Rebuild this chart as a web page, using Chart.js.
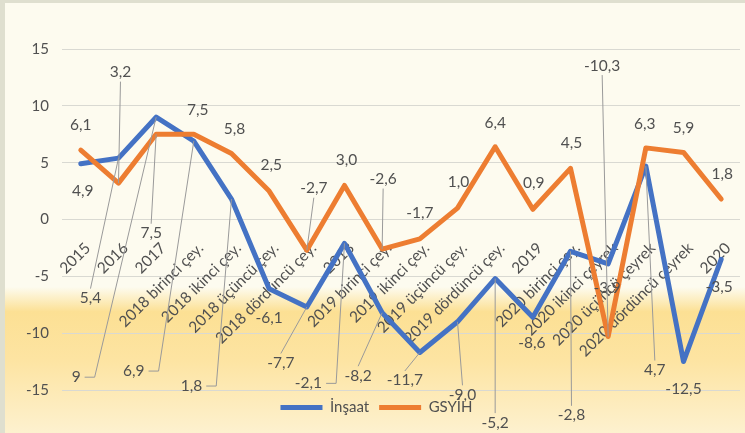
<!DOCTYPE html>
<html><head><meta charset="utf-8">
<script src="https://cdn.jsdelivr.net/npm/chart.js@4"></script>
<style>html,body{margin:0;padding:0;background:#fdfbef}#wrap{width:745px;height:433px}</style>
</head><body><div id="wrap"><canvas id="c" width="745" height="433"></canvas></div>
<script>
// ---- data ----
const categories = ['2015','2016','2017','2018 birinci çey.','2018 ikinci çey.','2018 üçüncü çey.','2018 dördüncü çey.','2018','2019 birinci çey.','2019 ikinci çey.','2019 üçüncü çey.','2019 dördüncü çey.','2019','2020 birinci çey.','2020 ikinci çeyrek','2020 üçüncü çeyrek','2020 dördüncü çeyrek','2020'];
const insaat = [4.9, 5.4, 9, 6.9, 1.8, -6.1, -7.7, -2.1, -8.2, -11.7, -9.0, -5.2, -8.6, -2.8, -3.9, 4.7, -12.5, -3.5];
const gsyih  = [6.1, 3.2, 7.5, 7.5, 5.8, 2.5, -2.7, 3.0, -2.6, -1.7, 1.0, 6.4, 0.9, 4.5, -10.3, 6.3, 5.9, 1.8];
const yTicks = [-15, -10, -5, 0, 5, 10, 15];
const seriesNames = ['İnşaat', 'GSYİH'];

// ---- label placement (style): [dx, dy, leader, decimals] relative to each point ----
const insaatLabelLayout = [
  [2,27,''],[-28,140,'v'],[-80,260,'e',0],[-60,230,'e'],[-40,187,'e'],[0,29,''],
  [-26,56,'v'],[-36,140,'e'],[-24,63,'v'],[-15,28,'v'],[5,73,'v'],[0,144,'v'],
  [-1,26,''],[1,164,'v'],[-1,24,''],[9,204,'v'],[0,27,''],[-2,28,'']
];
const gsyihLabelLayout = [
  [0,-25,''],[2,-111,'v'],[-5,99,'v'],[4,-24,''],[3,-25,''],[2,-26,''],
  [7,-62,'v'],[2,-25,''],[1,-70,'v'],[0,-26,''],[1,-26,''],[0,-24,''],
  [1,-26,''],[1,-25,''],[-6,-271,'v'],[-1,-24,''],[0,-24,''],[1,-25,'']
];

const FONT = 'Lato, "Open Sans", sans-serif';
const TXT = '#505050';

const bgPlugin = {
  id: 'bg',
  beforeDraw(chart) {
    const { ctx, width: W, height: H } = chart;
    ctx.save();
    ctx.fillStyle = '#fdfbef';
    ctx.fillRect(0, 0, W, H);
    const g = ctx.createLinearGradient(0, 287, 0, H);
    g.addColorStop(0, 'rgba(252,226,150,0)');
    g.addColorStop(0.17, 'rgba(252,224,148,1)');
    g.addColorStop(0.5, '#fde4a2');
    g.addColorStop(1, '#fdf1cf');
    ctx.fillStyle = g;
    ctx.fillRect(0, 287, W, H - 287);
    ctx.fillStyle = '#dfdfcf';
    ctx.fillRect(0, 0, W, 3);
    ctx.fillRect(0, 0, 5, H);
    ctx.restore();
  }
};

const xLabelPlugin = {
  id: 'xlabels',
  beforeDatasetsDraw(chart) {
    const { ctx } = chart;
    const xs = chart.scales.x, ys = chart.scales.y;
    const y0 = ys.getPixelForValue(0);
    ctx.save();
    ctx.font = '15.5px ' + FONT;
    ctx.fillStyle = TXT;
    ctx.textAlign = 'right';
    ctx.textBaseline = 'middle';
    categories.forEach((c, i) => {
      const x = xs.getPixelForValue(i);
      ctx.save();
      ctx.translate(x + 7, y0 + 26);
      ctx.rotate(-Math.PI / 4);
      ctx.fillText(c, 0, 0);
      ctx.restore();
    });
    ctx.restore();
  }
};

const fmt = (v, d) => v.toFixed(d).replace('.', ',');

const dataLabelPlugin = {
  id: 'dlabels',
  afterDatasetsDraw(chart) {
    const { ctx } = chart;
    ctx.save();
    ctx.font = '15.5px ' + FONT;
    ctx.fillStyle = TXT;
    ctx.strokeStyle = '#9a9a9a';
    ctx.lineWidth = 1;
    ctx.textAlign = 'center';
    ctx.textBaseline = 'middle';
    [[0, insaatLabelLayout], [1, gsyihLabelLayout]].forEach(([di, layout]) => {
      const meta = chart.getDatasetMeta(di);
      const vals = chart.data.datasets[di].data;
      meta.data.forEach((pt, i) => {
        const [dx, dy, lead, dec] = layout[i];
        const text = fmt(vals[i], dec === undefined ? 1 : dec);
        const lx = pt.x + dx, ly = pt.y + dy;
        const w = ctx.measureText(text).width, h = 15;
        if (lead) {
          ctx.beginPath();
          if (lead === 'e') {
            const sx = lx + w / 2 + 4;
            ctx.moveTo(sx, ly); ctx.lineTo(sx + 10, ly); ctx.lineTo(pt.x, pt.y);
          } else {
            const sy = dy > 0 ? ly - h / 2 - 2 : ly + h / 2 + 2;
            ctx.moveTo(lx, sy); ctx.lineTo(pt.x, pt.y);
          }
          ctx.stroke();
        }
        ctx.fillText(text, lx, ly);
      });
    });
    ctx.restore();
  }
};

new Chart(document.getElementById('c'), {
  type: 'line',
  data: {
    labels: categories,
    datasets: [
      { label: seriesNames[0], data: insaat, borderColor: '#4472c4', backgroundColor: '#4472c4', borderWidth: 5, pointRadius: 0, order: 1, borderJoinStyle: 'round', borderCapStyle: 'round' },
      { label: seriesNames[1], data: gsyih, borderColor: '#ed7d31', backgroundColor: '#ed7d31', borderWidth: 5, pointRadius: 0, order: 0, borderJoinStyle: 'round', borderCapStyle: 'round' }
    ]
  },
  options: {
    responsive: false,
    animation: false,
    devicePixelRatio: 1,
    layout: { padding: { left: 13, right: 5, top: 49, bottom: 8 } },
    plugins: {
      legend: {
        position: 'bottom',
        labels: {
          usePointStyle: true, pointStyle: 'line', pointStyleWidth: 42,
          color: TXT, font: { size: 15, family: FONT }, padding: 10,
          sort: (a, b) => a.datasetIndex - b.datasetIndex
        }
      },
      tooltip: { enabled: false }
    },
    scales: {
      x: { type: 'category', offset: true, display: false },
      y: {
        min: -15, max: 15,
        afterBuildTicks(s) { s.ticks = yTicks.map(v => ({ value: v })); },
        ticks: { color: TXT, font: { size: 15, family: FONT }, padding: 13 },
        grid: { color: '#d9d9d2', drawTicks: false },
        border: { display: false }
      }
    }
  },
  plugins: [bgPlugin, xLabelPlugin, dataLabelPlugin]
});
</script></body></html>
